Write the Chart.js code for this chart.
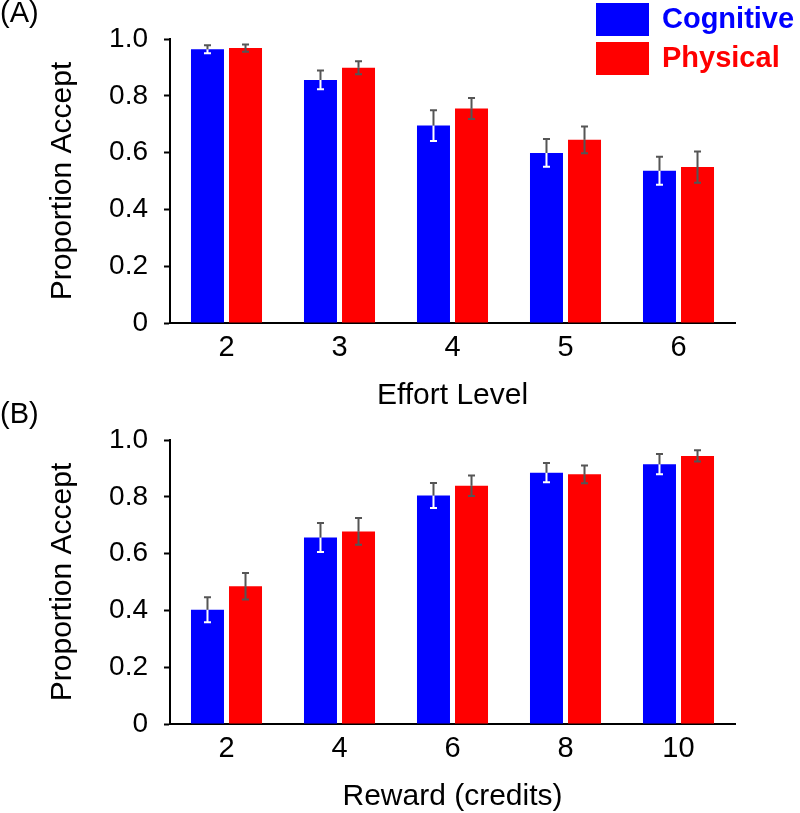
<!DOCTYPE html>
<html lang="en">
<head>
    <meta charset="UTF-8">
    <title>Proportion Accept</title>
    <script src="https://cdn.jsdelivr.net/npm/chart.js"></script>
    <style>
        body { margin: 0; background: #fff; }
        .wrap { position: relative; width: 800px; height: 813px; }
        canvas { position: absolute; left: 0; }
        #chartA { top: 0; }
        #chartB { top: 401px; }
    </style>
</head>
<body>
    <div class="wrap">
        <canvas id="chartA" width="800" height="411"></canvas>
        <canvas id="chartB" width="800" height="411"></canvas>
    </div>

    <script>
        // data
        const effortLevels = ["2", "3", "4", "5", "6"];
        const cognitiveByEffort = [0.964, 0.856, 0.695, 0.599, 0.536];
        const cognitiveByEffortErr = [0.014, 0.033, 0.054, 0.049, 0.049];
        const physicalByEffort = [0.968, 0.899, 0.755, 0.645, 0.549];
        const physicalByEffortErr = [0.013, 0.023, 0.037, 0.047, 0.055];

        const rewardLevels = ["2", "4", "6", "8", "10"];
        const cognitiveByReward = [0.402, 0.657, 0.805, 0.885, 0.915];
        const cognitiveByRewardErr = [0.044, 0.051, 0.044, 0.034, 0.036];
        const physicalByReward = [0.485, 0.678, 0.839, 0.879, 0.944];
        const physicalByRewardErr = [0.047, 0.047, 0.036, 0.031, 0.020];

        const seriesNames = ["Cognitive", "Physical"];
        const blue = "#0000ff";
        const red = "#ff0000";
        const FONT = "'Liberation Sans', Arial, sans-serif";

        Chart.defaults.color = "#000";
        Chart.defaults.font.family = FONT;

        // error bars: upper whisker grey, lower whisker coloured per dataset
        const errorBars = {
            id: "errorBars",
            afterDatasetsDraw(chart) {
                const ctx = chart.ctx;
                const y = chart.scales.y;
                chart.data.datasets.forEach((ds, di) => {
                    const meta = chart.getDatasetMeta(di);
                    meta.data.forEach((bar, i) => {
                        const v = ds.data[i], e = ds.errors[i];
                        const top = y.getPixelForValue(v + e);
                        const bot = y.getPixelForValue(v - e);
                        const mid = y.getPixelForValue(v);
                        ctx.save();
                        ctx.lineWidth = 2;
                        ctx.strokeStyle = ds.lowerErrColor;
                        ctx.beginPath();
                        ctx.moveTo(bar.x, mid); ctx.lineTo(bar.x, bot);
                        ctx.moveTo(bar.x - 3.5, bot); ctx.lineTo(bar.x + 3.5, bot);
                        ctx.stroke();
                        ctx.strokeStyle = "#555";
                        ctx.beginPath();
                        ctx.moveTo(bar.x, mid); ctx.lineTo(bar.x, top);
                        ctx.moveTo(bar.x - 3.5, top); ctx.lineTo(bar.x + 3.5, top);
                        ctx.stroke();
                        ctx.restore();
                    });
                });
            }
        };

        // "(A)" / "(B)" and the box legend
        const extras = {
            id: "extras",
            afterDraw(chart, args, opts) {
                const ctx = chart.ctx;
                ctx.save();
                ctx.fillStyle = "#000";
                ctx.font = "29px " + FONT;
                ctx.textBaseline = "middle";
                ctx.textAlign = "left";
                ctx.fillText(opts.panel, 0, 14);
                if (opts.legend) {
                    ctx.font = "bold 29px " + FONT;
                    chart.data.datasets.forEach((ds, i) => {
                        const top = 3 + i * 39;
                        ctx.fillStyle = ds.backgroundColor;
                        ctx.fillRect(596, top, 53, 33);
                        ctx.fillText(ds.label, 662, top + 17);
                    });
                }
                ctx.restore();
            }
        };

        function makeChart(id, labels, cog, cogErr, phys, physErr, xTitle, panel, legend) {
            return new Chart(document.getElementById(id), {
                type: "bar",
                data: {
                    labels: labels,
                    datasets: [
                        { label: seriesNames[0], data: cog, errors: cogErr, backgroundColor: blue, lowerErrColor: "#fff" },
                        { label: seriesNames[1], data: phys, errors: physErr, backgroundColor: red, lowerErrColor: "#555" }
                    ]
                },
                options: {
                    responsive: false,
                    animation: false,
                    categoryPercentage: 0.673,
                    barPercentage: 0.868,
                    layout: { padding: { left: 0, right: 65, top: 39, bottom: 0 } },
                    plugins: {
                        legend: { display: false },
                        tooltip: { enabled: false },
                        extras: { panel: panel, legend: legend }
                    },
                    scales: {
                        x: {
                            grid: { display: false, drawTicks: false },
                            border: { display: true, color: "#000", width: 2 },
                            ticks: { padding: 8, font: { size: 29 } },
                            title: {
                                display: true,
                                text: xTitle,
                                font: { size: 30, lineHeight: 1 },
                                padding: { top: 0, bottom: 0 }
                            },
                            afterFit: s => { s.height = 88; }
                        },
                        y: {
                            min: 0,
                            max: 1,
                            grid: { drawOnChartArea: false, drawTicks: true, tickLength: 6, tickColor: "#000", tickWidth: 2 },
                            border: { display: true, color: "#000", width: 2 },
                            ticks: {
                                stepSize: 0.1,
                                padding: 16,
                                font: { size: 28 },
                                callback: (v, i) => (i % 2 === 0 ? (v === 0 ? "0" : v.toFixed(1)) : "")
                            },
                            title: {
                                display: true,
                                text: "Proportion Accept",
                                font: { size: 30, lineHeight: 1 },
                                padding: { top: 48, bottom: 0 }
                            },
                            afterFit: s => { s.width = 170; }
                        }
                    }
                },
                plugins: [errorBars, extras]
            });
        }

        makeChart("chartA", effortLevels, cognitiveByEffort, cognitiveByEffortErr,
                  physicalByEffort, physicalByEffortErr, "Effort Level", "(A)", true);
        makeChart("chartB", rewardLevels, cognitiveByReward, cognitiveByRewardErr,
                  physicalByReward, physicalByRewardErr, "Reward (credits)", "(B)", false);
    </script>
</body>
</html>
